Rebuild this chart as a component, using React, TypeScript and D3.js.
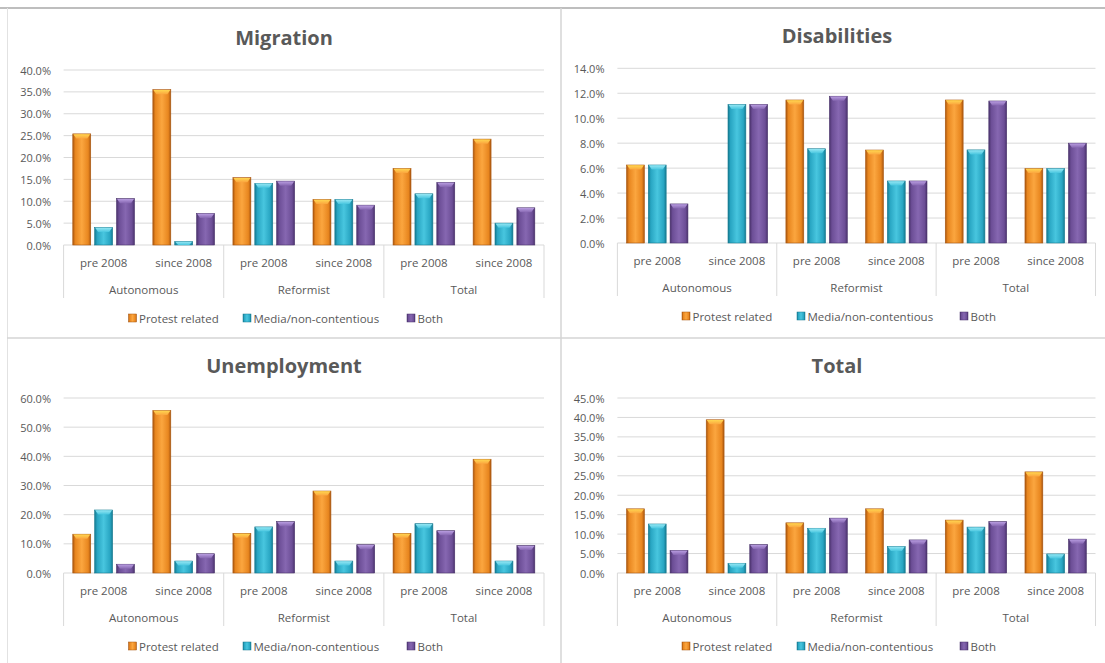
import React from "react";
import * as d3 from "d3";

// Category structure shared by all four charts
const groups = ["Autonomous", "Reformist", "Total"];
const periods = ["pre 2008", "since 2008"];
const seriesNames = ["Protest related", "Media/non-contentious", "Both"];

// Shares in percent, ordered Autonomous pre/since, Reformist pre/since, Total pre/since
const migrationProtest = [25.4, 35.5, 15.4, 10.4, 17.5, 24.2];
const migrationMedia = [4.0, 0.8, 14.1, 10.4, 11.7, 5.0];
const migrationBoth = [10.6, 7.2, 14.6, 9.1, 14.3, 8.5];

const disabilitiesProtest = [6.25, 0, 11.46, 7.45, 11.46, 5.97];
const disabilitiesMedia = [6.25, 11.1, 7.55, 4.97, 7.46, 5.97];
const disabilitiesBoth = [3.13, 11.1, 11.76, 4.97, 11.38, 8.0];

const unemploymentProtest = [13.3, 55.7, 13.6, 28.1, 13.6, 39.0];
const unemploymentMedia = [21.6, 4.1, 15.8, 4.1, 16.9, 4.1];
const unemploymentBoth = [3.0, 6.6, 17.6, 9.7, 14.5, 9.4];

const totalProtest = [16.5, 39.4, 12.9, 16.5, 13.6, 26.0];
const totalMedia = [12.6, 2.5, 11.5, 6.8, 11.8, 4.9];
const totalBoth = [5.8, 7.3, 14.1, 8.5, 13.2, 8.7];

// Axis maxima and steps
const migrationAxis = [40, 5];
const disabilitiesAxis = [14, 2];
const unemploymentAxis = [60, 10];
const totalAxis = [45, 5];

const FONT = "'Open Sans', 'DejaVu Sans', sans-serif";
const TEXT = "#595959";
const GRID = "#d9d9d9";

const palette = [
  { id: "orange", edge: "#a9560f", mid: "#e8861f", light: "#fba63f", cap: "#ffd650" },
  { id: "cyan", edge: "#167a90", mid: "#28a5c2", light: "#48c6df", cap: "#94e6f3" },
  { id: "purple", edge: "#4a326c", mid: "#6c4e96", light: "#8667b1", cap: "#b89ce0" },
];

type Layout = {
  left: number;
  right: number;
  top: number;
  zero: number;
  labelX: number;
  titleX: number;
  titleY: number;
  subY: number;
  groupY: number;
  sepBottom: number;
  legendY: number;
  legendBoxes: number[];
};

function Panel({
  title,
  series,
  axis,
  L,
}: {
  title: string;
  series: number[][];
  axis: number[];
  L: Layout;
}) {
  const [yMax, yStep] = axis;
  const y = d3.scaleLinear().domain([0, yMax]).range([L.zero, L.top]);
  const cats = d3.range(groups.length * periods.length);
  const x0 = d3.scaleBand<number>().domain(cats).range([L.left, L.right]);
  const x1 = d3
    .scaleBand<number>()
    .domain([0, 1, 2])
    .range([0, x0.bandwidth()])
    .paddingInner(0.18)
    .paddingOuter(0.42);
  const ticks = d3.range(0, yMax + yStep / 2, yStep);
  const fmt = d3.format(".1f");
  const groupW = (L.right - L.left) / groups.length;
  const bw = x1.bandwidth();

  return (
    <g>
      <text
        x={L.titleX}
        y={L.titleY}
        textAnchor="middle"
        dominantBaseline="central"
        fontFamily={FONT}
        fontWeight="bold"
        fontSize={20}
        fill={TEXT}
      >
        {title}
      </text>
      {ticks.map((t) => (
        <g key={t}>
          <line x1={L.left} x2={L.right} y1={y(t)} y2={y(t)} stroke={GRID} strokeWidth={1} />
          <text
            x={L.labelX}
            y={y(t)}
            textAnchor="end"
            dominantBaseline="central"
            fontFamily={FONT}
            fontSize={11}
            fill={TEXT}
          >
            {fmt(t)}%
          </text>
        </g>
      ))}
      {d3.range(groups.length + 1).map((i) => (
        <line
          key={"sep" + i}
          x1={L.left + i * groupW}
          x2={L.left + i * groupW}
          y1={L.zero}
          y2={L.sepBottom}
          stroke={GRID}
          strokeWidth={1}
        />
      ))}
      {series.map((vals, s) =>
        vals.map((v, c) => {
          if (v <= 0) return null;
          const bx = (x0(c) as number) + (x1(s) as number);
          const top = y(v);
          const h = L.zero - top;
          const p = palette[s];
          const capH = Math.min(4.5, h);
          return (
            <g key={s + "-" + c}>
              <rect
                x={bx}
                y={top}
                width={bw}
                height={h}
                fill={`url(#grad-${p.id})`}
                stroke={p.edge}
                strokeWidth={0.6}
              />
              <polygon
                points={`${bx + 0.5},${top + 0.3} ${bx + bw - 0.5},${top + 0.3} ${bx + bw - 3.5},${top + capH} ${bx + 3.5},${top + capH}`}
                fill={`url(#cap-${p.id})`}
              />
            </g>
          );
        })
      )}
      {cats.map((c) => (
        <text
          key={"sub" + c}
          x={(x0(c) as number) + x0.bandwidth() / 2}
          y={L.subY}
          textAnchor="middle"
          dominantBaseline="central"
          fontFamily={FONT}
          fontSize={11.5}
          fill={TEXT}
        >
          {periods[c % periods.length]}
        </text>
      ))}
      {groups.map((g, i) => (
        <text
          key={g}
          x={L.left + (i + 0.5) * groupW}
          y={L.groupY}
          textAnchor="middle"
          dominantBaseline="central"
          fontFamily={FONT}
          fontSize={11.5}
          fill={TEXT}
        >
          {g}
        </text>
      ))}
      {seriesNames.map((n, s) => (
        <g key={n}>
          <rect
            x={L.legendBoxes[s]}
            y={L.legendY - 4}
            width={8}
            height={8}
            fill={`url(#grad-${palette[s].id})`}
            stroke={palette[s].edge}
            strokeWidth={0.5}
          />
          <text
            x={L.legendBoxes[s] + 10.5}
            y={L.legendY}
            dominantBaseline="central"
            fontFamily={FONT}
            fontSize={11.5}
            fill={TEXT}
          >
            {n}
          </text>
        </g>
      ))}
    </g>
  );
}

const leftLayout = (dy: number, zero: number, top: number): Layout => ({
  left: 63.6,
  right: 544,
  top,
  zero,
  labelX: 51,
  titleX: 284,
  titleY: dy + 37,
  subY: zero + 17,
  groupY: zero + 44,
  sepBottom: zero + 53,
  legendY: zero + 73,
  legendBoxes: [128.5, 243, 407],
});

const rightLayout = (dy: number, zero: number, top: number): Layout => ({
  left: 617.4,
  right: 1095.5,
  top,
  zero,
  labelX: 604.5,
  titleX: 837,
  titleY: dy + 35,
  subY: zero + 17,
  groupY: zero + 44,
  sepBottom: zero + 53,
  legendY: zero + 73,
  legendBoxes: [682, 797, 960],
});

export default function App() {
  return (
    <svg
      width={1105}
      height={663}
      viewBox="0 0 1105 663"
      style={{ position: "absolute", left: 0, top: 0, background: "#ffffff" }}
    >
      <defs>
        {palette.map((p) => (
          <linearGradient key={p.id} id={`grad-${p.id}`} x1="0" x2="1" y1="0" y2="0">
            <stop offset="0" stopColor={p.edge} />
            <stop offset="0.14" stopColor={p.mid} />
            <stop offset="0.5" stopColor={p.light} />
            <stop offset="0.86" stopColor={p.mid} />
            <stop offset="1" stopColor={p.edge} />
          </linearGradient>
        ))}
        {palette.map((p) => (
          <linearGradient key={"c" + p.id} id={`cap-${p.id}`} x1="0" x2="0" y1="0" y2="1">
            <stop offset="0" stopColor={p.cap} />
            <stop offset="1" stopColor={p.light} />
          </linearGradient>
        ))}
      </defs>
      <rect x={0} y={0} width={1105} height={663} fill="#ffffff" />
      {/* panel frame */}
      <line x1={0} x2={1105} y1={8} y2={8} stroke="#a8a8a8" strokeWidth={1.5} />
      <line x1={7.5} x2={7.5} y1={8} y2={663} stroke="#e2e2e2" strokeWidth={1} />
      <line x1={561} x2={561} y1={8} y2={663} stroke="#d4d4d4" strokeWidth={1.5} />
      <line x1={7} x2={1105} y1={338} y2={338} stroke="#d4d4d4" strokeWidth={1.5} />

      <Panel
        title="Migration"
        series={[migrationProtest, migrationMedia, migrationBoth]}
        axis={migrationAxis}
        L={leftLayout(0, 245, 70)}
      />
      <Panel
        title="Disabilities"
        series={[disabilitiesProtest, disabilitiesMedia, disabilitiesBoth]}
        axis={disabilitiesAxis}
        L={rightLayout(0, 243, 68.3)}
      />
      <Panel
        title="Unemployment"
        series={[unemploymentProtest, unemploymentMedia, unemploymentBoth]}
        axis={unemploymentAxis}
        L={leftLayout(328, 573, 398)}
      />
      <Panel
        title="Total"
        series={[totalProtest, totalMedia, totalBoth]}
        axis={totalAxis}
        L={rightLayout(330, 573, 398)}
      />
    </svg>
  );
}
